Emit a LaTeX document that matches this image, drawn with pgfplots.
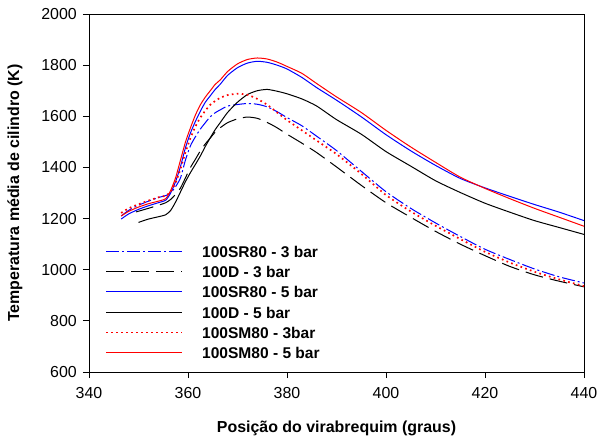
\documentclass[border=0pt]{standalone}
\usepackage{fontspec}
\setmainfont{Liberation Sans}
\usepackage{pgfplots}
\pgfplotsset{compat=1.18}
\definecolor{pblue}{RGB}{0,0,255}
\definecolor{pred}{RGB}{255,0,0}
\tikzset{
  sr3/.style={pblue, line width=1bp, dash pattern=on 13bp off 3bp on 2bp off 3bp},
  d3/.style={black, line width=1bp, dash pattern=on 18bp off 7bp},
  sr5/.style={pblue, line width=1bp},
  d5/.style={black, line width=1bp},
  sm3/.style={pred, line width=1.7bp, dash pattern=on 1.7bp off 3.3bp},
  sm5/.style={pred, line width=1bp},
  legtext/.style={anchor=west, inner sep=0pt, font=\fontsize{15.6}{18}\selectfont\bfseries, xshift=96bp},
}
\begin{document}
\begin{tikzpicture}
\begin{axis}[
  scale only axis,
  width=495bp, height=358bp,
  xmin=340, xmax=440, ymin=600, ymax=2000,
  xtick={340,360,...,440}, ytick={600,800,...,2000},
  xtick pos=bottom, ytick pos=left,
  tick align=outside, major tick length=6bp,
  axis line style={line width=0.9bp},
  every tick/.style={black, line width=0.9bp},
  /pgf/number format/assume math mode=true,
  /pgf/number format/set thousands separator={},
  tick label style={font=\fontsize{16}{19}\selectfont},
  yticklabel style={inner sep=0pt, anchor=east, xshift=-6bp},
  xticklabel style={inner sep=0pt, anchor=north, yshift=-9bp},
  every axis y label/.style={at={(rel axis cs:0,0.5)}, xshift=-74bp, rotate=90, anchor=center},
  every axis x label/.style={at={(rel axis cs:0.5,0)}, yshift=-56bp, anchor=center},
  label style={font=\fontsize{16}{19}\selectfont\bfseries},
  xlabel={Posição do virabrequim (graus)},
  ylabel={Temperatura média de cilindro (K)},
  every axis plot/.append style={smooth, tension=0.4},
]
% 100SR80 - 3 bar
\addplot[sr3] coordinates {
(346.5,1210)(348,1232)(350,1252)(352,1268)(354,1282)(355.5,1290)(356.5,1300)(357.5,1325)(358.5,1360)(359.5,1430)(360.5,1485)(361.5,1520)(362.5,1550)(363.5,1575)(364.5,1598)(365.5,1614)(366.5,1625)(368,1640)(370,1646)(372,1650)(374,1647)(376,1637)(378,1618)(380,1595)(383,1563)(386,1522)(390,1466)(395,1385)(400,1305)(405,1240)(410,1183)(415,1130)(420,1080)(425,1040)(430,1003)(435,972)(440,948)};
% 100D - 3 bar
\addplot[d3] coordinates {
(349.5,1226)(352,1240)(354,1252)(355.5,1262)(356.5,1275)(357.5,1295)(358.5,1320)(359.5,1360)(360.5,1400)(361.5,1432)(362.5,1465)(363.5,1492)(364.5,1515)(365.5,1538)(366.5,1555)(368,1575)(370,1590)(372,1597)(374,1592)(376,1576)(378,1555)(380,1530)(383,1495)(386,1458)(390,1402)(395,1330)(400,1262)(405,1205)(410,1150)(415,1100)(420,1055)(425,1013)(430,980)(435,955)(440,933)};
% 100SR80 - 5 bar
\addplot[sr5] coordinates {
(346.5,1198)(348,1218)(350,1236)(352,1250)(354,1262)(355.5,1272)(356.5,1300)(357.5,1345)(358.5,1405)(359.5,1478)(360.5,1535)(361.5,1580)(362.5,1620)(363.5,1655)(364.5,1680)(365.5,1705)(366.5,1725)(368,1760)(370,1790)(372,1808)(374,1815)(376,1811)(378,1800)(380,1785)(383,1752)(386,1712)(390,1663)(395,1598)(400,1528)(405,1465)(410,1408)(415,1357)(420,1320)(425,1287)(430,1255)(435,1225)(440,1192)};
% 100D - 5 bar
\addplot[d5] coordinates {
(350,1185)(352,1198)(354,1207)(355.5,1215)(356.5,1232)(357.5,1265)(358.5,1305)(359.5,1345)(360.5,1380)(361.5,1412)(362.5,1445)(363.5,1482)(364.5,1516)(365.5,1548)(366.5,1575)(368,1615)(370,1655)(372,1685)(374,1700)(376,1705)(378,1698)(380,1688)(383,1668)(386,1640)(390,1587)(395,1530)(400,1462)(405,1405)(410,1348)(415,1302)(420,1260)(425,1225)(430,1192)(435,1165)(440,1138)};
% 100SM80 - 3bar
\addplot[sm3] coordinates {
(346.5,1222)(348,1240)(350,1256)(352,1270)(354,1283)(355.5,1290)(356.5,1305)(357.5,1340)(358.5,1395)(359.5,1460)(360.5,1515)(361.5,1560)(362.5,1595)(363.5,1622)(364.5,1645)(365.5,1660)(366.5,1672)(368,1683)(370,1688)(372,1684)(374,1668)(376,1645)(378,1615)(380,1585)(383,1545)(386,1505)(390,1452)(395,1375)(400,1292)(405,1228)(410,1172)(415,1120)(420,1070)(425,1028)(430,992)(435,962)(440,936)};
% 100SM80 - 5 bar
\addplot[sm5] coordinates {
(346.5,1210)(348,1228)(350,1245)(352,1258)(354,1268)(355.5,1278)(356.5,1310)(357.5,1360)(358.5,1430)(359.5,1500)(360.5,1555)(361.5,1605)(362.5,1645)(363.5,1675)(364.5,1700)(365.5,1725)(366.5,1742)(368,1775)(370,1805)(372,1822)(374,1828)(376,1824)(378,1812)(380,1795)(383,1768)(386,1728)(390,1676)(395,1615)(400,1545)(405,1480)(410,1420)(415,1362)(420,1318)(425,1278)(430,1240)(435,1205)(440,1170)};
% legend
\draw[sr3] (rel axis cs:0.03434,0.33659) -- ++(76bp,0bp);
\node[legtext] at (rel axis cs:0.03434,0.33659) {100SR80 - 3 bar};
\draw[d3] (rel axis cs:0.03434,0.28073) -- ++(76bp,0bp);
\node[legtext] at (rel axis cs:0.03434,0.28073) {100D - 3 bar};
\draw[sr5, line width=1.2bp] (rel axis cs:0.03434,0.22486) -- ++(76bp,0bp);
\node[legtext] at (rel axis cs:0.03434,0.22486) {100SR80 - 5 bar};
\draw[d5] (rel axis cs:0.03434,0.16620) -- ++(76bp,0bp);
\node[legtext] at (rel axis cs:0.03434,0.16620) {100D - 5 bar};
\draw[sm3] (rel axis cs:0.03434,0.11034) -- ++(76bp,0bp);
\node[legtext] at (rel axis cs:0.03434,0.11034) {100SM80 - 3bar};
\draw[sm5, line width=1.2bp] (rel axis cs:0.03434,0.05447) -- ++(76bp,0bp);
\node[legtext] at (rel axis cs:0.03434,0.05447) {100SM80 - 5 bar};
\end{axis}
\path (current axis.south west) ++(-89bp,-67bp) coordinate (BBA);
\path (current axis.north east) ++(16bp,14bp) coordinate (BBB);
\pgfresetboundingbox
\path[use as bounding box] (BBA) rectangle (BBB);
\end{tikzpicture}
\end{document}
